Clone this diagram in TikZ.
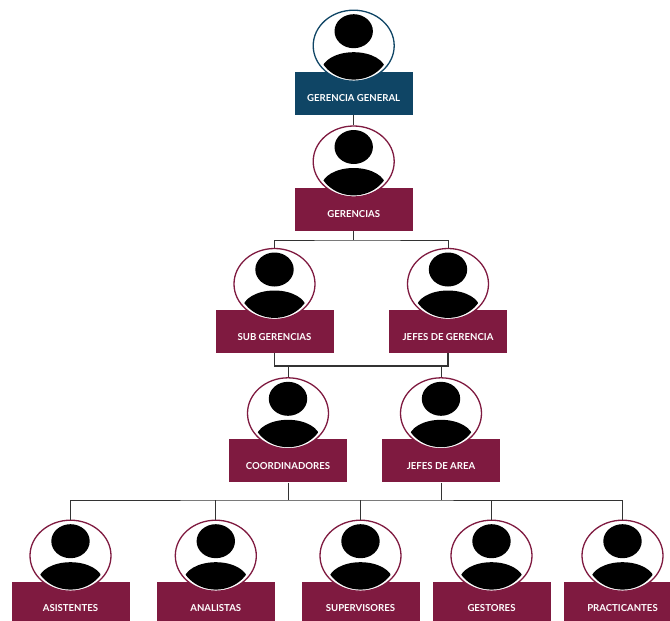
\documentclass[tikz,border=0pt]{standalone}
\usepackage{fontspec}
\setmainfont{Lato}
\usetikzlibrary{shapes.geometric, calc}
\definecolor{azulcargo}{HTML}{0F4565}
\definecolor{vinocargo}{HTML}{7F1A40}
\definecolor{linea}{HTML}{333333}
\tikzset{
  caja/.style={rectangle, fill=#1, text=white, minimum width=118pt, minimum height=43pt,
    inner sep=0pt, text height=17.5pt, text depth=0pt, font=\fontsize{9.6}{11}\selectfont\bfseries},
  foto/.style={ellipse, draw=#1, line width=1.3pt, fill=white, minimum width=81pt,
    minimum height=71pt, inner sep=0pt},
  enlace/.style={draw=linea, line width=1pt}
}
% x, y = centre of the box
\newcommand{\persona}[5]{
  \node[caja=#4] (#1) at (#2,#3) {#5};
  \node[foto=#4] (#1-f) at (#2,#3-47.5) {};
  \begin{scope}
    \clip (#2,#3-47.5) ellipse [x radius=36.5, y radius=33.9];
    \fill (#2,#3-62) ellipse [x radius=19.2, y radius=17];
    \fill (#2-32,#3-22.5) arc [start angle=180, end angle=360, x radius=32, y radius=18.5]
      -- (#2+32,#3-7) -- (#2-32,#3-7) -- cycle;
  \end{scope}
}

\begin{document}
\begin{tikzpicture}[x=1pt,y=-1pt]
\useasboundingbox (0,0) rectangle (670,621);
\clip (0,0) rectangle (670,621);

\persona{general}{353.7}{93.2}{azulcargo}{GERENCIA GENERAL}
\persona{gerencias}{353.7}{209}{vinocargo}{GERENCIAS}
\persona{sub}{274.5}{331.5}{vinocargo}{SUB GERENCIAS}
\persona{jefes}{448}{331.5}{vinocargo}{JEFES DE GERENCIA}
\persona{coord}{288}{460.8}{vinocargo}{COORDINADORES}
\persona{area}{441}{460.8}{vinocargo}{JEFES DE AREA}
\persona{asist}{70.5}{603.2}{vinocargo}{ASISTENTES}
\persona{anal}{215.8}{603.2}{vinocargo}{ANALISTAS}
\persona{super}{360.5}{603.2}{vinocargo}{SUPERVISORES}
\persona{gest}{491.5}{603.2}{vinocargo}{GESTORES}
\persona{pract}{622.5}{603.2}{vinocargo}{PRACTICANTES}

\coordinate (barra1) at (353.7,240);
\coordinate (barra2) at (353.7,366);
\coordinate (barra3) at (288,500);

\draw[enlace] (general.south) -- (gerencias-f.north);

\draw[enlace] (gerencias.south) -- (barra1);
\draw[enlace] (sub-f.north) |- (barra1) -| (jefes-f.north);

\draw[enlace, line width=1.5pt] (sub.south) |- (barra2) -| (jefes.south);
\draw[enlace] (coord-f.north) -- (coord-f.north |- barra2);
\draw[enlace] (area-f.north) -- (area-f.north |- barra2);

\draw[enlace] (coord.south) -- (barra3);
\draw[enlace] (area.south) -- (area.south |- barra3);
\draw[enlace] (asist-f.north) |- (barra3) -| (pract-f.north);
\foreach \n in {anal,super,gest}
  \draw[enlace] (\n-f.north) -- (\n-f.north |- barra3);
\end{tikzpicture}
\end{document}
